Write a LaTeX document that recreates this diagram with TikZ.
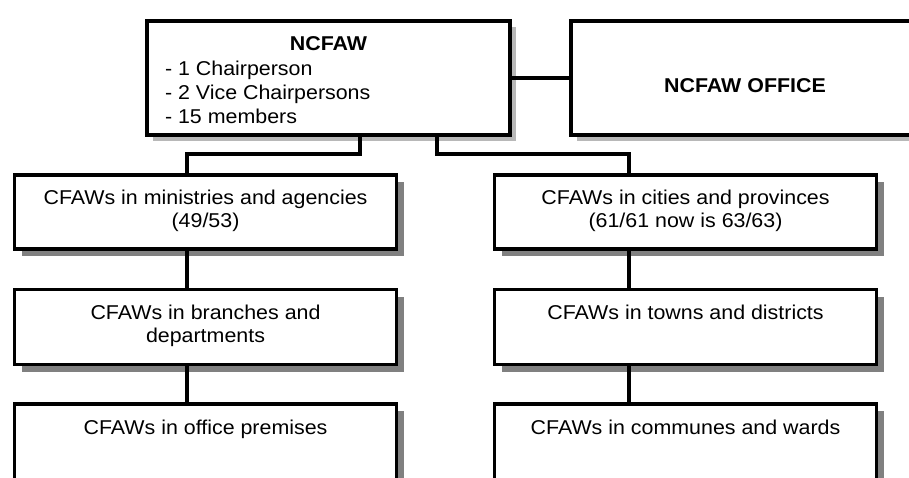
\documentclass[tikz,border=0pt]{standalone}
\usepackage{fontspec}
\setmainfont[FakeStretch=1.07]{Liberation Sans}
\begin{document}
\begin{tikzpicture}[x=1pt,y=-1pt,
  box/.style={draw=black,line width=3.6pt,fill=white,inner sep=0pt,outer sep=0pt,rectangle},
  lightsh/.style={fill=black!28},
  darksh/.style={fill=black!50},
  wire/.style={draw=black,line width=3.2pt},
  txt/.style={inner sep=0pt,outer sep=0pt,font=\fontsize{20}{23}\selectfont,align=center},
  btxt/.style={inner sep=0pt,outer sep=0pt,font=\fontsize{20}{23}\selectfont\bfseries}
]
\useasboundingbox (0,0) rectangle (909,478);
\newcommand{\firstline}{\rule{0pt}{15pt}}
% box positions
\coordinate (pN) at (328.5,78);
\coordinate (pO) at (745,78);
\coordinate (pA1) at (205.5,212);
\coordinate (pB1) at (685.5,212);
\coordinate (pA2) at (205.5,327);
\coordinate (pB2) at (685.5,327);
\coordinate (pA3) at (205.5,460);
\coordinate (pB3) at (685.5,460);
% shadows
\fill[lightsh] ([shift={(6,6)}]pN) ++(-181.5,-57) rectangle ++(363,114);
\fill[lightsh] ([shift={(6,6)}]pO) ++(-174,-57) rectangle ++(348,114);
\foreach \p/\h in {pA1/74,pB1/74,pA2/75,pB2/75,pA3/112,pB3/112}{
  \fill[darksh] ([shift={(7,7)}]\p) ++(-191,-\h/2) rectangle ++(382,\h);
}
% boxes
\node[box,minimum width=363,minimum height=114] (ncfaw) at (pN) {};
\node[box,minimum width=348,minimum height=114] (office) at (pO) {};
\node[box,minimum width=382,minimum height=74] (a1) at (pA1) {};
\node[box,minimum width=382,minimum height=74] (b1) at (pB1) {};
\node[box,minimum width=382,minimum height=75] (a2) at (pA2) {};
\node[box,minimum width=382,minimum height=75] (b2) at (pB2) {};
\node[box,minimum width=382,minimum height=112] (a3) at (pA3) {};
\node[box,minimum width=382,minimum height=112] (b3) at (pB3) {};
% connectors
\coordinate (xL) at (187,0);
\coordinate (xR) at (629,0);
\coordinate (xs1) at (360,0);
\coordinate (xs2) at (437,0);
\coordinate (jL) at (187,154);
\coordinate (jR) at (629,154);
\draw[wire] (ncfaw.east) -- (office.west);
\draw[wire] (ncfaw.south -| xs1) |- (jL) -- (a1.north -| xL);
\draw[wire] (ncfaw.south -| xs2) |- (jR) -- (b1.north -| xR);
\draw[wire] (a1.south -| xL) -- (a2.north -| xL);
\draw[wire] (a2.south -| xL) -- (a3.north -| xL);
\draw[wire] (b1.south -| xR) -- (b2.north -| xR);
\draw[wire] (b2.south -| xR) -- (b3.north -| xR);
% texts
\node[btxt,anchor=base] (tN) at (328.5,51) {NCFAW};
\node[txt,anchor=north west,align=left,font=\fontsize{20}{24}\selectfont] (tNl) at (165,61)
  {\firstline- 1 Chairperson\\- 2 Vice Chairpersons\\- 15 members};
\node[btxt,anchor=base] (tO) at (745,93) {NCFAW OFFICE};
\node[txt,anchor=north] (tA1) at (205.5,190) {\firstline CFAWs in ministries and agencies\\(49/53)};
\node[txt,anchor=north] (tB1) at (685.5,190) {\firstline CFAWs in cities and provinces\\(61/61 now is 63/63)};
\node[txt,anchor=north] (tA2) at (205.5,304) {\firstline CFAWs in branches and\\departments};
\node[txt,anchor=north] (tB2) at (685.5,304) {\firstline CFAWs in towns and districts};
\node[txt,anchor=north] (tA3) at (205.5,419) {\firstline CFAWs in office premises};
\node[txt,anchor=north] (tB3) at (685.5,419) {\firstline CFAWs in communes and wards};
\end{tikzpicture}
\end{document}
